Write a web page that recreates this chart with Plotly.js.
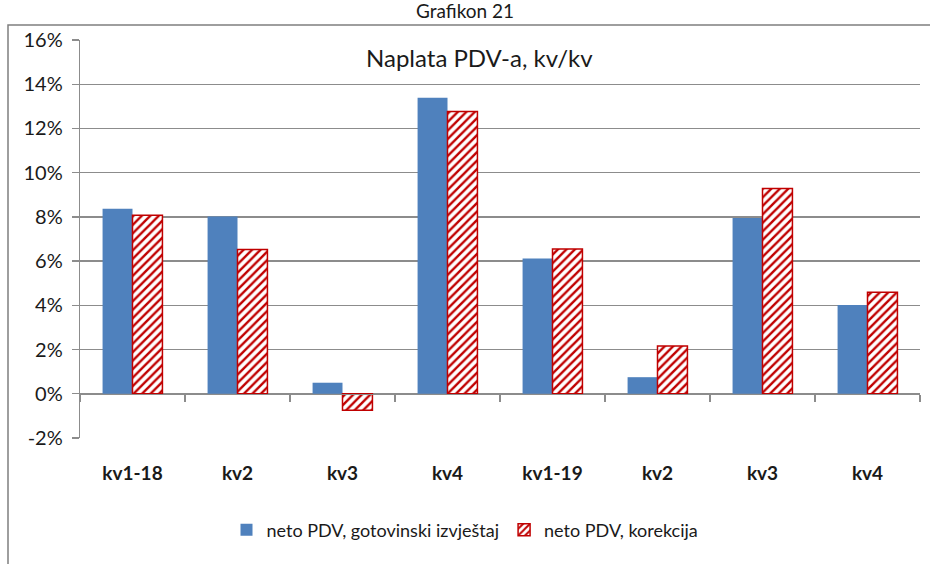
<!DOCTYPE html>
<html>
<head>
<meta charset="utf-8">
<script src="https://cdn.plot.ly/plotly-3.0.1.min.js"></script>
<style>html,body{margin:0;padding:0;background:#fff;}#chart{width:930px;height:564px;}</style>
</head>
<body>
<div id="chart"></div>
<script>
// Data
const categories = ["kv1-18", "kv2", "kv3", "kv4", "kv1-19", "kv2", "kv3", "kv4"];
const gotovinski = [8.37, 8.02, 0.50, 13.39, 6.12, 0.75, 7.95, 4.01];
const korekcija = [8.07, 6.53, -0.75, 12.77, 6.55, 2.16, 9.28, 4.59];
const yTicks = [-2, 0, 2, 4, 6, 8, 10, 12, 14, 16];
const seriesNames = ["neto PDV, gotovinski izvještaj", "neto PDV, korekcija"];
const chartTitle = "Naplata PDV-a, kv/kv";
const figureTitle = "Grafikon 21";

const idx = categories.map((_, i) => i);
const boundaries = [-0.5].concat(idx.map(i => i + 0.5));
const yRange = [yTicks[0], yTicks[yTicks.length - 1]];
const zeroPos = (0 - yRange[0]) / (yRange[1] - yRange[0]);
const grey = "#8c8c8c";
const font = "Lato, 'Open Sans', sans-serif";

const traces = [
  {
    type: "bar", x: idx, y: gotovinski, name: seriesNames[0],
    marker: { color: "#4F81BD", line: { width: 0 } },
    hoverinfo: "skip"
  },
  {
    type: "bar", x: idx, y: korekcija, name: seriesNames[1],
    marker: {
      color: "#ffffff",
      line: { color: "#C00000", width: 1.5 },
      pattern: { shape: "/", fgcolor: "#C00000", bgcolor: "#ffffff", size: 6, solidity: 0.4 }
    },
    hoverinfo: "skip"
  },
  {
    // invisible trace so the zero-line axis (x2) is drawn
    type: "scatter", x: [idx[0]], y: [gotovinski[0]], xaxis: "x2", mode: "markers",
    marker: { opacity: 0 }, showlegend: false, hoverinfo: "skip"
  }
];

const layout = {
  width: 930, height: 564,
  margin: { l: 80, r: 10, t: 40, b: 126 },
  paper_bgcolor: "#ffffff", plot_bgcolor: "#ffffff",
  font: { family: font, color: "#1a1a1a" },
  barmode: "group", bargap: 0.43, bargroupgap: 0,
  showlegend: true,
  legend: {
    orientation: "h", xref: "container", yref: "container",
    x: 0.5, xanchor: "center", y: 1 - 530 / 564, yanchor: "middle",
    font: { size: 18, family: font, color: "#1a1a1a" },
    itemwidth: 30, traceorder: "normal"
  },
  xaxis: {
    range: [-0.5, categories.length - 0.5],
    tickvals: idx, ticktext: categories,
    tickfont: { size: 19, family: font, weight: "bold", color: "#1a1a1a" },
    ticks: "", showline: false, showgrid: false, zeroline: false,
    ticklabelstandoff: 22, fixedrange: true
  },
  xaxis2: {
    overlaying: "x", anchor: "free", position: zeroPos,
    range: [-0.5, categories.length - 0.5],
    tickvals: boundaries, showticklabels: false,
    ticks: "outside", ticklen: 7, tickcolor: grey, tickwidth: 1.3,
    showline: true, linecolor: grey, linewidth: 1.3,
    showgrid: false, zeroline: false, fixedrange: true
  },
  yaxis: {
    range: yRange, tickvals: yTicks, ticktext: yTicks.map(v => v + "%"),
    tickfont: { size: 20, family: font, color: "#1a1a1a" },
    ticks: "outside", ticklen: 7, tickcolor: grey, tickwidth: 1.3,
    ticklabelstandoff: 5,
    showline: true, linecolor: grey, linewidth: 1.3,
    showgrid: true, gridcolor: grey, gridwidth: 1.3,
    zeroline: false, fixedrange: true
  },
  annotations: [
    {
      text: chartTitle, xref: "paper", yref: "paper",
      x: (479 - 80) / 840, y: (438 - 58) / 398, xanchor: "center", yanchor: "middle",
      showarrow: false, font: { size: 24, family: font, color: "#1a1a1a" }
    },
    {
      text: figureTitle, xref: "paper", yref: "paper",
      x: (465 - 80) / 840, y: (438 - 11) / 398, xanchor: "center", yanchor: "middle",
      showarrow: false, font: { size: 19, family: font, color: "#1a1a1a" }
    }
  ],
  shapes: [
    {
      type: "rect", xref: "paper", yref: "paper",
      x0: (8 - 80) / 840, x1: (980 - 80) / 840,
      y0: (438 - 600) / 398, y1: (438 - 25) / 398,
      line: { color: "#7f7f7f", width: 1.5 }, fillcolor: "rgba(0,0,0,0)", layer: "below"
    }
  ]
};

Plotly.newPlot("chart", traces, layout, { displayModeBar: false, staticPlot: true });
</script>
</body>
</html>
